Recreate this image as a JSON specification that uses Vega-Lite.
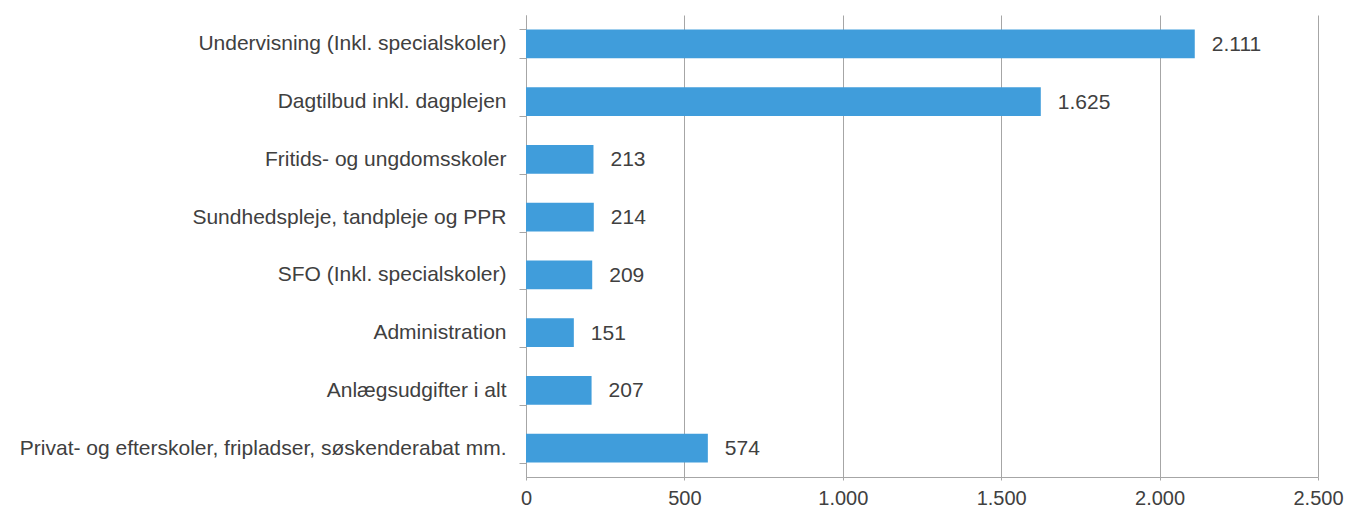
{
  "$schema": "https://vega.github.io/schema/vega-lite/v6.json",
  "autosize": "none",
  "width": 792,
  "height": 462,
  "padding": {"left": 526, "top": 15, "right": 28, "bottom": 32},
  "background": "white",
  "config": {
    "locale": {"number": {"decimal": ",", "thousands": ".", "grouping": [3], "currency": ["", ""]}},
    "view": {"stroke": null},
    "font": "Liberation Sans",
    "axis": {"labelFont": "Liberation Sans", "labelColor": "#404040", "labelFontSize": 21, "domainColor": "#a6a6a6", "tickColor": "#a6a6a6", "gridColor": "#a6a6a6"}
  },
  "data": {"values": [
    {"kategori": "Undervisning (Inkl. specialskoler)", "v": 2111},
    {"kategori": "Dagtilbud inkl. dagplejen", "v": 1625},
    {"kategori": "Fritids- og ungdomsskoler", "v": 213},
    {"kategori": "Sundhedspleje, tandpleje og PPR", "v": 214},
    {"kategori": "SFO (Inkl. specialskoler)", "v": 209},
    {"kategori": "Administration", "v": 151},
    {"kategori": "Anlægsudgifter i alt", "v": 207},
    {"kategori": "Privat- og efterskoler, fripladser, søskenderabat mm.", "v": 574}
  ]},
  "encoding": {
    "y": {"field": "kategori", "type": "nominal", "sort": null, "title": null,
      "scale": {"paddingInner": 0.5, "paddingOuter": 0.25},
      "axis": {"tickBand": "extent", "tickSize": 7, "labelPadding": 13, "grid": false, "labelLimit": 700}},
    "x": {"field": "v", "type": "quantitative", "title": null,
      "scale": {"domain": [0, 2500], "nice": false},
      "axis": {"values": [0, 500, 1000, 1500, 2000, 2500], "format": ",d", "tickSize": 3, "labelPadding": 8, "labelFontSize": 20, "grid": true, "labelFlush": false}}
  },
  "layer": [
    {"mark": {"type": "bar", "color": "#409ddb"}},
    {"mark": {"type": "text", "align": "left", "dx": 17, "dy": 1, "fontSize": 21, "color": "#404040", "font": "Liberation Sans"},
     "encoding": {"text": {"field": "v", "type": "quantitative", "format": ",d"}}}
  ]
}
